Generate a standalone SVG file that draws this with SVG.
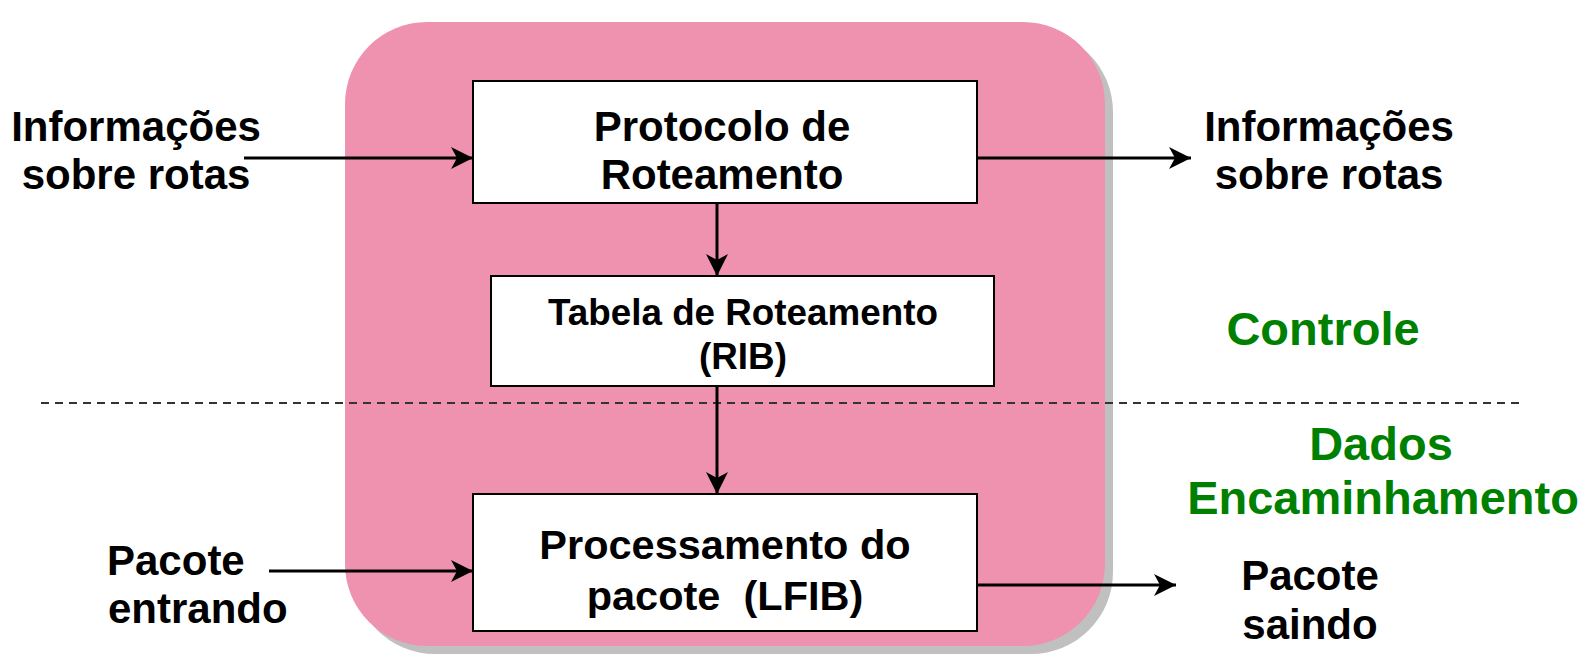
<svg xmlns="http://www.w3.org/2000/svg" width="1590" height="663" viewBox="0 0 1590 663">
<defs>
<style>
.lbl{font-family:"Liberation Sans",Arial,sans-serif;font-weight:bold;fill:#000}
.grn{font-family:"Liberation Sans",Arial,sans-serif;font-weight:bold;fill:#008000}
.box{fill:#fff;stroke:#000;stroke-width:2}
.con{stroke:#000;stroke-width:3;fill:none}
</style>
<marker id="arr" markerUnits="userSpaceOnUse" markerWidth="24" markerHeight="22" viewBox="0 0 24 22" refX="22" refY="11" orient="auto">
<path d="M0,0 L22,11 L0,22 L6,11 Z" fill="#000"/>
</marker>
</defs>
<rect width="1590" height="663" fill="#fff"/>
<g id="router">
<rect x="353" y="30" width="760" height="624" rx="82" ry="82" fill="#c0c0c0"/>
<rect x="345" y="22" width="760" height="624" rx="82" ry="82" fill="#ef92b0"/>
</g>
<line x1="41" y1="403" x2="1521" y2="403" stroke="#333" stroke-width="2" stroke-dasharray="8,6"/>
<g id="connectors">
<line class="con" x1="244" y1="158" x2="473" y2="158" marker-end="url(#arr)"/>
<line class="con" x1="977" y1="158" x2="1191" y2="158" marker-end="url(#arr)"/>
<line class="con" x1="717" y1="203" x2="717" y2="276" marker-end="url(#arr)"/>
<line class="con" x1="717" y1="386" x2="717" y2="494" marker-end="url(#arr)"/>
<line class="con" x1="269" y1="571" x2="473" y2="571" marker-end="url(#arr)"/>
<line class="con" x1="977" y1="585" x2="1176" y2="585" marker-end="url(#arr)"/>
</g>
<g id="protocolo">
<rect class="box" x="473" y="81" width="504" height="122"/>
<text class="lbl" font-size="42" text-anchor="middle" x="722" y="141">Protocolo de</text>
<text class="lbl" font-size="42" text-anchor="middle" x="722" y="189">Roteamento</text>
</g>
<g id="tabela">
<rect class="box" x="491" y="276" width="503" height="110"/>
<text class="lbl" font-size="36.8" text-anchor="middle" x="743" y="325">Tabela de Roteamento</text>
<text class="lbl" font-size="36.8" text-anchor="middle" x="743" y="369">(RIB)</text>
</g>
<g id="processamento">
<rect class="box" x="473" y="494" width="504" height="137"/>
<text class="lbl" font-size="41.5" text-anchor="middle" x="725" y="559">Processamento do</text>
<text class="lbl" font-size="41.5" text-anchor="middle" x="725" y="610" xml:space="preserve">pacote  (LFIB)</text>
</g>
<g id="info-in">
<text class="lbl" font-size="42" text-anchor="middle" x="136" y="141">Informações</text>
<text class="lbl" font-size="42" text-anchor="middle" x="136" y="189">sobre rotas</text>
</g>
<g id="info-out">
<text class="lbl" font-size="42" text-anchor="middle" x="1329" y="141">Informações</text>
<text class="lbl" font-size="42" text-anchor="middle" x="1329" y="189">sobre rotas</text>
</g>
<g id="pacote-in">
<text class="lbl" font-size="42" x="107" y="575">Pacote</text>
<text class="lbl" font-size="42" x="108" y="623">entrando</text>
</g>
<g id="pacote-out">
<text class="lbl" font-size="42" text-anchor="middle" x="1310" y="590">Pacote</text>
<text class="lbl" font-size="42" text-anchor="middle" x="1310" y="639">saindo</text>
</g>
<g id="controle">
<text class="grn" font-size="47" text-anchor="middle" x="1323" y="345">Controle</text>
</g>
<g id="dados">
<text class="grn" font-size="47" text-anchor="middle" x="1381" y="460">Dados</text>
<text class="grn" font-size="47" text-anchor="middle" x="1383" y="514">Encaminhamento</text>
</g>
</svg>
